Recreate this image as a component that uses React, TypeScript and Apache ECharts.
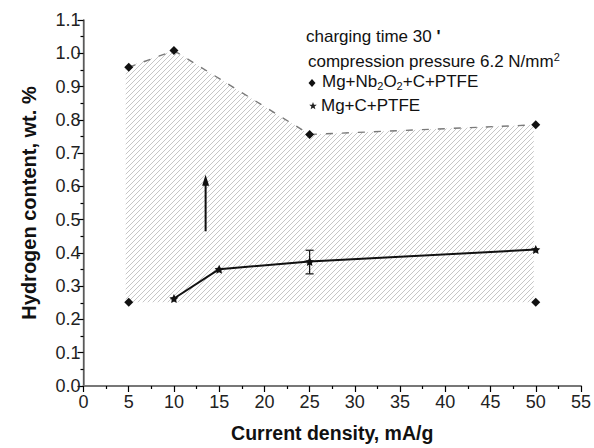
import React, { useEffect, useRef } from "react";
import * as echarts from "echarts";

// ---- data ----
const nbX = [5, 10, 25, 50];
const nbUpper = [0.958, 1.008, 0.756, 0.785];
const nbLowX = [5, 50];
const nbLow = [0.252, 0.252];
const cX = [10, 15, 25, 50];
const cY = [0.263, 0.351, 0.374, 0.41];
const errX = [25];
const errLow = [0.337];
const errHigh = [0.408];
const arrowX = [13.5];
const arrowFrom = [0.465];
const arrowTo = [0.635];
const xTicks = { min: 0, max: 55, step: 5 };
const yTicks = { min: 0, max: 1.1, step: 0.1 };

const FONT = "'Liberation Sans', Arial, Helvetica, sans-serif";
const STAR =
  "path://M0,-10 L2.9,-4 L9.5,-3.1 L4.7,1.5 L5.9,8.1 L0,5 L-5.9,8.1 L-4.7,1.5 L-9.5,-3.1 L-2.9,-4 Z";

function starPoints(cx: number, cy: number, r: number) {
  const pts: number[][] = [];
  for (let i = 0; i < 10; i++) {
    const rr = i % 2 === 0 ? r : r * 0.42;
    const a = -Math.PI / 2 + (i * Math.PI) / 5;
    pts.push([cx + rr * Math.cos(a), cy + rr * Math.sin(a)]);
  }
  return pts;
}

function makeHatch() {
  const s = 5;
  const c = document.createElement("canvas");
  c.width = s;
  c.height = s;
  const g = c.getContext("2d")!;
  g.strokeStyle = "#bcbcbc";
  g.lineWidth = 0.85;
  g.beginPath();
  g.moveTo(0, s);
  g.lineTo(s, 0);
  g.moveTo(-1, 1);
  g.lineTo(1, -1);
  g.moveTo(s - 1, s + 1);
  g.lineTo(s + 1, s - 1);
  g.stroke();
  return c;
}

export default function App() {
  const ref = useRef<HTMLDivElement>(null);
  useEffect(() => {
    if (!ref.current) return;
    const chart = echarts.init(ref.current, null, { renderer: "svg" });
    const hatch = makeHatch();
    const axisLabel = { fontSize: 18, color: "#222", fontFamily: FONT };
    const option: any = {
      animation: false,
      backgroundColor: "#fff",
      grid: { left: 83.5, right: 10, top: 20, bottom: 61, containLabel: false },
      xAxis: [
        {
          type: "value",
          position: "bottom",
          min: xTicks.min,
          max: xTicks.max,
          interval: xTicks.step,
          axisLine: { lineStyle: { color: "#000", width: 1.2 } },
          axisTick: { length: 6, lineStyle: { color: "#000", width: 1.2 } },
          minorTick: { show: true, splitNumber: 2, length: 3, lineStyle: { color: "#000", width: 1.2 } },
          axisLabel: { ...axisLabel, margin: 7 },
          splitLine: { show: false },
          name: "Current density, mA/g",
          nameLocation: "middle",
          nameGap: 37,
          nameTextStyle: { fontSize: 19.5, fontWeight: "bold", color: "#111", fontFamily: FONT },
        },
        {
          type: "value",
          position: "top",
          min: xTicks.min,
          max: xTicks.max,
          interval: xTicks.step,
          axisLine: { show: true, lineStyle: { color: "#777", width: 2 } },
          axisTick: { show: false },
          axisLabel: { show: false },
          splitLine: { show: false },
        },
      ],
      yAxis: [
        {
          type: "value",
          position: "left",
          min: yTicks.min,
          max: yTicks.max,
          interval: yTicks.step,
          axisLine: { show: true, lineStyle: { color: "#000", width: 1.2 } },
          axisTick: { show: true, length: 6, lineStyle: { color: "#000", width: 1.2 } },
          minorTick: { show: true, splitNumber: 2, length: 3, lineStyle: { color: "#000", width: 1.2 } },
          axisLabel: { ...axisLabel, margin: 3, formatter: (v: number) => v.toFixed(1) },
          splitLine: { show: false },
          name: "Hydrogen content, wt. %",
          nameLocation: "middle",
          nameGap: 45,
          nameRotate: 90,
          nameTextStyle: { fontSize: 20, fontWeight: "bold", color: "#111", fontFamily: FONT },
        },
        {
          type: "value",
          position: "right",
          min: yTicks.min,
          max: yTicks.max,
          interval: yTicks.step,
          axisLine: { show: true, lineStyle: { color: "#777", width: 1.5 } },
          axisTick: { show: false },
          axisLabel: { show: false },
          splitLine: { show: false },
        },
      ],
      series: [
        {
          type: "custom",
          name: "range",
          coordinateSystem: "cartesian2d",
          data: [[nbX[0], nbLow[0]]],
          clip: false,
          silent: true,
          z: 1,
          renderItem: (params: any, api: any) => {
            const pts: number[][] = [];
            for (let i = 0; i < nbX.length; i++) pts.push(api.coord([nbX[i], nbUpper[i]]));
            for (let i = nbLowX.length - 1; i >= 0; i--) pts.push(api.coord([nbLowX[i], nbLow[i]]));
            pts[0][0] -= 3;
            pts[pts.length - 1][0] -= 3;
            pts[nbX.length - 1][0] -= 2;
            pts[nbX.length][0] -= 2;
            return {
              type: "polygon",
              shape: { points: pts },
              style: { fill: { image: hatch, repeat: "repeat" }, stroke: null },
            };
          },
        },
        {
          type: "line",
          name: "Mg+Nb2O2+C+PTFE upper",
          data: nbX.map((x, i) => [x, nbUpper[i]]),
          symbol: "diamond",
          symbolSize: 9,
          itemStyle: { color: "#111", opacity: 1 },
          lineStyle: { color: "#7a7a7a", width: 1.4, type: [7, 9] },
          z: 3,
        },
        {
          type: "scatter",
          name: "Mg+Nb2O2+C+PTFE lower",
          data: nbLowX.map((x, i) => [x, nbLow[i]]),
          symbol: "diamond",
          symbolSize: 9,
          itemStyle: { color: "#111", opacity: 1 },
          z: 3,
        },
        {
          type: "line",
          name: "Mg+C+PTFE",
          data: cX.map((x, i) => [x, cY[i]]),
          symbol: STAR,
          symbolSize: 9,
          itemStyle: { color: "#111" },
          lineStyle: { color: "#111", width: 2 },
          z: 4,
        },
        {
          type: "custom",
          name: "error",
          coordinateSystem: "cartesian2d",
          data: errX.map((x, i) => [x, errLow[i], errHigh[i]]),
          z: 5,
          renderItem: (params: any, api: any) => {
            const x = api.value(0);
            const lo = api.coord([x, api.value(1)]);
            const hi = api.coord([x, api.value(2)]);
            const w = 4;
            const st = { stroke: "#111", lineWidth: 1.2 };
            return {
              type: "group",
              children: [
                { type: "line", shape: { x1: lo[0], y1: lo[1], x2: hi[0], y2: hi[1] }, style: st },
                { type: "line", shape: { x1: lo[0] - w, y1: lo[1], x2: lo[0] + w, y2: lo[1] }, style: st },
                { type: "line", shape: { x1: hi[0] - w, y1: hi[1], x2: hi[0] + w, y2: hi[1] }, style: st },
              ],
            };
          },
        },
        {
          type: "custom",
          name: "arrow",
          coordinateSystem: "cartesian2d",
          data: arrowX.map((x, i) => [x, arrowFrom[i], arrowTo[i]]),
          z: 5,
          renderItem: (params: any, api: any) => {
            const x = api.value(0);
            const a = api.coord([x, api.value(1)]);
            const b = api.coord([x, api.value(2)]);
            return {
              type: "group",
              children: [
                { type: "line", shape: { x1: a[0], y1: a[1], x2: b[0], y2: b[1] + 6 }, style: { stroke: "#111", lineWidth: 2 } },
                {
                  type: "polygon",
                  shape: { points: [[b[0], b[1]], [b[0] - 3.5, b[1] + 11], [b[0] + 3.5, b[1] + 11]] },
                  style: { fill: "#111" },
                },
              ],
            };
          },
        },
      ],
      graphic: [
        {
          type: "text",
          left: 306,
          top: 28,
          style: {
            text: "{n|charging time 30 }{b|'}",
            rich: {
              n: { fontSize: 17, fontFamily: FONT, fill: "#111" },
              b: { fontSize: 17, fontFamily: FONT, fill: "#111", fontWeight: "bold" },
            },
          },
        },
        {
          type: "text",
          left: 308,
          top: 51,
          style: {
            text: "{n|compression pressure 6.2 N/mm}{p|2}",
            rich: {
              n: { fontSize: 17, fontFamily: FONT, fill: "#111", lineHeight: 20 },
              p: { fontSize: 11, fontFamily: FONT, fill: "#111", lineHeight: 12, verticalAlign: "top" },
            },
          },
        },
        {
          type: "polygon",
          shape: { points: [[312, 79], [315.5, 83], [312, 87], [308.5, 83]] },
          style: { fill: "#111" },
        },
        {
          type: "text",
          left: 322,
          top: 73,
          style: {
            text: "{n|Mg+Nb}{s|2}{n|O}{s|2}{n|+C+PTFE}",
            rich: {
              n: { fontSize: 17, fontFamily: FONT, fill: "#111", lineHeight: 20 },
              s: { fontSize: 11, fontFamily: FONT, fill: "#111", lineHeight: 12, verticalAlign: "bottom" },
            },
          },
        },
        {
          type: "polygon",
          shape: { points: starPoints(313, 106, 4) },
          style: { fill: "#222" },
        },
        {
          type: "text",
          left: 321,
          top: 97,
          style: { text: "Mg+C+PTFE", fontSize: 17, fontFamily: FONT, fill: "#111" },
        },
      ],
    };
    chart.setOption(option);
    return () => chart.dispose();
  }, []);
  return (
    <div
      ref={ref}
      style={{ position: "fixed", left: 0, top: 0, width: 594, height: 448, background: "#fff" }}
    />
  );
}
